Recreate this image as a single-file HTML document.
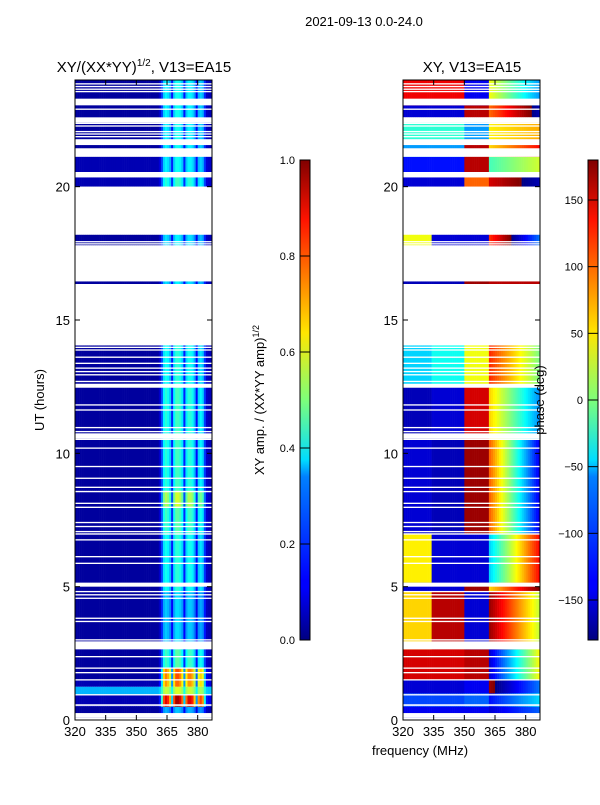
<!DOCTYPE html>
<html><head><meta charset="utf-8"><style>
body{margin:0;background:#fff;width:600px;height:800px;overflow:hidden;font-family:"Liberation Sans","DejaVu Sans",sans-serif}
svg text{font-family:"Liberation Sans","DejaVu Sans",sans-serif}
</style></head><body>
<svg id="s" width="600" height="800" xmlns="http://www.w3.org/2000/svg">
<defs>
<linearGradient id="jet" x1="0" y1="1" x2="0" y2="0">
<stop offset="0" stop-color="#000080"/><stop offset="0.11" stop-color="#0000ff"/><stop offset="0.125" stop-color="#0000ff"/>
<stop offset="0.34" stop-color="#0080ff"/><stop offset="0.375" stop-color="#00ddff"/><stop offset="0.5" stop-color="#7dff7a"/>
<stop offset="0.64" stop-color="#ffe600"/><stop offset="0.875" stop-color="#ff1300"/><stop offset="1" stop-color="#800000"/>
</linearGradient>
</defs>
<text x="364" y="26" font-size="13" text-anchor="middle">2021-09-13 0.0-24.0</text>
<text x="144" y="72" font-size="15" text-anchor="middle">XY/(XX*YY)<tspan font-size="10" dy="-6">1/2</tspan><tspan dy="6">, V13=EA15</tspan></text>
<text x="472" y="72" font-size="15" text-anchor="middle">XY, V13=EA15</text>
<g id="amp"></g>
<g id="pha"></g>
<g id="axes"></g>
<rect x="300" y="160" width="10" height="480" fill="url(#jet)" stroke="#000" stroke-width="1"/>
<rect x="588" y="160" width="10" height="480" fill="url(#jet)" stroke="#000" stroke-width="1"/>
<g id="cb"></g>
<text transform="translate(44,400) rotate(-90)" font-size="13" text-anchor="middle">UT (hours)</text>
<text transform="translate(264,400) rotate(-90)" font-size="13" text-anchor="middle">XY amp. / (XX*YY amp)<tspan font-size="9" dy="-5">1/2</tspan></text>
<text transform="translate(544,400) rotate(-90)" font-size="13" text-anchor="middle">phase (deg)</text>
<text x="420" y="755" font-size="13" text-anchor="middle">frequency (MHz)</text>
</svg>
<script>
const freqs = [];
for (let f = 320; f <= 386; f++) freqs.push(f);
const stripe = [0.05,0.2,0.4,0.45,0.42,0.35,0.15,0.4,0.48,0.48,0.45,0.38,0.15,0.38,0.45,0.45,0.42,0.33,0.12,0.36,0.4,0.36,0.18,0.05,0.03,0.03];
// [t0, t1, gain, baseAmp]
const ampSegs = [[0,0.5,0.6,0.03],[0.5,0.95,1.9,0.05],[0.95,1.25,0.6,0.3],[1.25,1.5,1.5,0.05],[1.5,1.95,1.6,0.03],[1.95,2.65,0.9,0.03],
[2.65,4.8,0.65,0.03],[4.8,5.15,0.8,0.03],[5.15,7.0,0.8,0.03],[7.0,8.0,0.9,0.03],[8.0,8.6,1.15,0.03],[8.6,10.5,0.85,0.03],
[10.5,12.5,0.85,0.03],[12.5,14.05,0.8,0.03],[16.35,16.45,0.7,0.03],[17.8,18.2,0.7,0.03],[20.0,20.35,0.8,0.05],[20.55,21.12,0.7,0.05],[21.12,24,0.75,0.03]];
// [t0, t1, phase320-334, phase334-350, phase350-362, phaseRight0, slopeRight]
const phaSegs = [[0,0.5,-140,-140,-140,-150,2],[0.5,1.0,-110,-110,-100,-130,3],[1.0,1.5,-150,-150,-140,170,4],[1.5,2.65,150,150,160,-150,8],
[2.65,4.8,60,160,-150,170,-6],[4.8,5.15,-150,-150,170,60,5],[5.15,7.0,50,-150,-150,-60,8],[7.0,10.5,-150,-160,170,100,-10],[10.5,12.5,-160,-150,150,60,-6],
[12.5,14.05,-60,-40,40,120,-5],[16.35,16.45,-160,-160,170,160,0],[17.8,18.2,40,-150,-150,120,6],[20.0,20.35,-150,-150,100,150,2],[20.55,21.12,-130,-130,160,-20,2],
[21.12,21.78,-80,-80,160,60,3],[21.78,22.4,-30,-30,-80,50,1],[22.6,23.05,-150,-150,160,100,4],[23.05,24,140,140,-140,40,-5]];
const gaps = [[0,0.08],[0.08,0.26],[0.53,0.59],[0.92,0.97],[1.48,1.53],[1.75,1.8],[1.92,1.97],[2.35,2.4],[2.65,2.95],[2.98,3.03],[3.67,3.72],[3.79,3.84],
[4.54,4.59],[4.67,4.72],[4.79,4.84],[5.0,5.15],[5.85,5.9],[6.1,6.15],[6.73,6.78],[6.95,7.0],[7.04,7.09],[7.23,7.28],[7.38,7.43],[7.95,8.0],[8.1,8.15],
[8.54,8.59],[8.7,8.75],[9.04,9.09],[9.48,9.53],[10.17,10.22],[10.5,10.55],[10.55,10.75],[10.79,10.84],[10.94,10.99],[11.6,11.65],[11.79,11.84],
[12.46,12.61],[12.67,12.72],[12.92,12.97],[13.04,13.09],[13.17,13.22],[13.35,13.4],[13.58,13.63],[13.85,13.9],[13.95,14.0],[14.05,16.35],[16.45,17.8],
[17.83,17.88],[17.91,17.96],[18.2,20.0],[20.35,20.55],[21.12,21.44],[21.56,21.78],[21.85,21.9],[21.95,22.0],[22.04,22.09],[22.25,22.3],[22.35,22.4],
[22.4,22.6],[22.88,22.93],[23.05,23.3],[23.54,23.59],[23.63,23.68],[23.73,23.78],[23.83,23.88]];
const xTicks = [320,335,350,365,380];
const yTicks = [0,5,10,15,20];
const ampTicks = [0.0,0.2,0.4,0.6,0.8,1.0];
const phaTicks = [-150,-100,-50,0,50,100,150];

const NS='http://www.w3.org/2000/svg';
const yTop=80,yBot=720,W=137;
const panels={amp:75,pha:403};
function yS(h){return yBot-(h/24)*(yBot-yTop);}
function xS(f,x0){return x0+(f-320)*W/67;}
function jet(v){v=Math.max(0,Math.min(1,v));
 const r=Math.max(0,Math.min(1,1.5-Math.abs(4*v-3))),g=Math.max(0,Math.min(1,1.5-Math.abs(4*v-2))),b=Math.max(0,Math.min(1,1.5-Math.abs(4*v-1)));
 return 'rgb('+Math.round(r*255)+','+Math.round(g*255)+','+Math.round(b*255)+')';}
function mk(tag,attrs,parent){const e=document.createElementNS(NS,tag);for(const k in attrs)e.setAttribute(k,attrs[k]);parent.appendChild(e);return e;}
function wrap(p){while(p>180)p-=360;while(p<-180)p+=360;return p;}

const gA=document.getElementById('amp'),gP=document.getElementById('pha');
ampSegs.forEach(s=>{
 freqs.forEach(f=>{
  const st=f>=361?stripe[f-361]:0;
  const v=s[3]+s[2]*st;
  const r=mk('rect',{x:xS(f,panels.amp),y:yS(s[1]),width:W/67+0.3,height:yS(s[0])-yS(s[1]),fill:jet(v)},gA);
  
  
 });
});
phaSegs.forEach(s=>{
 freqs.forEach(f=>{
  let p;
  if(f<334)p=s[2];else if(f<350)p=s[3];else if(f<362)p=s[4];else p=wrap(s[5]+s[6]*(f-362));
  const r=mk('rect',{x:xS(f,panels.pha),y:yS(s[1]),width:W/67+0.3,height:yS(s[0])-yS(s[1]),fill:jet((p+180)/360)},gP);
  
  
 });
});
const gx=document.getElementById('axes');
for(const k in panels){const x0=panels[k];
 gaps.forEach(g=>{
  const r=mk('rect',{x:x0,y:yS(g[1]),width:W,height:Math.max(1,yS(g[0])-yS(g[1])),fill:'#fff'},gx);
  
  
 });
 const fr=mk('rect',{x:x0,y:yTop,width:W,height:yBot-yTop,fill:'none',stroke:'#000','stroke-width':1},gx);
 
 
 xTicks.forEach(t=>{const x=xS(t,x0);
  mk('line',{x1:x,x2:x,y1:yBot,y2:yBot-5,stroke:'#000'},gx);mk('line',{x1:x,x2:x,y1:yTop,y2:yTop+5,stroke:'#000'},gx);
  const tx=mk('text',{x:x,y:yBot+16,'font-size':13,'text-anchor':'middle'},gx);tx.textContent=t;
  
  
 });
 yTicks.forEach(t=>{const y=yS(t);
  mk('line',{x1:x0,x2:x0+5,y1:y,y2:y,stroke:'#000'},gx);mk('line',{x1:x0+W,x2:x0+W-5,y1:y,y2:y,stroke:'#000'},gx);
  const tx=mk('text',{x:x0-5,y:y+5,'font-size':13,'text-anchor':'end'},gx);tx.textContent=t;
  
  
 });
}
const gc=document.getElementById('cb');
ampTicks.forEach(t=>{const y=640-t*480;
 mk('line',{x1:300,x2:310,y1:y,y2:y,stroke:'#000'},gc);
 const tx=mk('text',{x:295,y:y+4,'font-size':11,'text-anchor':'end'},gc);tx.textContent=t.toFixed(1);
 
 
});
phaTicks.forEach(t=>{const y=640-(t+180)/360*480;
 mk('line',{x1:588,x2:598,y1:y,y2:y,stroke:'#000'},gc);
 const tx=mk('text',{x:583,y:y+4,'font-size':11,'text-anchor':'end'},gc);tx.textContent=t<0?'\u2212'+(-t):t;
 
 
});
</script>
</body></html>
